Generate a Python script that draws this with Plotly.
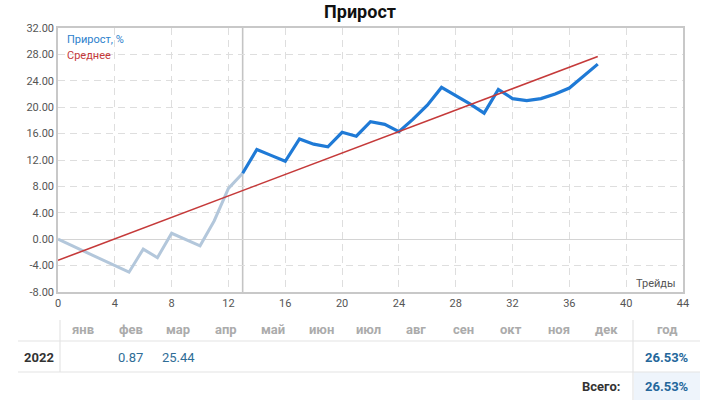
import plotly.graph_objects as go

# ---------------- data ----------------
title_text = "Прирост"
trades_early = list(range(0, 14))
growth_early = [0.0, -1.0, -2.0, -3.0, -4.0, -5.0, -1.5, -2.8, 0.9, 0.0, -1.0, 2.8, 7.7, 10.0]
trades_late = list(range(13, 39))
growth_late = [10.0, 13.6, 12.7, 11.8, 15.2, 14.4, 14.0, 16.2, 15.6, 17.8, 17.4, 16.3, 18.2,
               20.3, 23.0, 21.8, 20.5, 19.1, 22.7, 21.3, 21.0, 21.3, 22.0, 22.9, 24.7, 26.53]
avg_trades = [0, 38]
avg_growth = [-3.2, 27.7]
split_trade = 13
series_names = ["Прирост, %", "Среднее"]
x_axis_label = "Трейды"
x_ticks = list(range(0, 45, 4))
y_ticks = [-8, -4, 0, 4, 8, 12, 16, 20, 24, 28, 32]
y_tick_labels = ["-8.00", "-4.00", "0.00", "4.00", "8.00", "12.00", "16.00",
                 "20.00", "24.00", "28.00", "32.00"]
months = ["янв", "фев", "мар", "апр", "май", "июн", "июл", "авг", "сен", "окт", "ноя", "дек"]
year_header = "год"
year_label = "2022"
month_values = ["", "0.87", "25.44", "", "", "", "", "", "", "", "", ""]
year_total = "26.53%"
grand_total_label = "Всего:"
grand_total = "26.53%"

# ---------------- geometry ----------------
W, H = 720, 400
L, R, T, B = 58, 37, 28, 108
PW, PH = W - L - R, H - T - B
FONT = "Roboto"


def px(x):
    return (x - L) / PW


def py(y):
    return (H - B - y) / PH


C_LIGHT = "#b3c7db"
C_BLUE = "#1f7ad6"
C_RED = "#c53a3a"

fig = go.Figure()
fig.add_trace(go.Scatter(x=trades_early, y=growth_early, mode="lines",
                         line=dict(color=C_LIGHT, width=3), hoverinfo="skip"))
fig.add_trace(go.Scatter(x=trades_late, y=growth_late, mode="lines",
                         line=dict(color=C_BLUE, width=3.2), name=series_names[0]))
fig.add_trace(go.Scatter(x=avg_trades, y=avg_growth, mode="lines",
                         line=dict(color=C_RED, width=1.6), name=series_names[1]))

fig.add_shape(type="line", xref="x", yref="paper", x0=split_trade, x1=split_trade,
              y0=0, y1=1, line=dict(color="#c4c4c4", width=1.6), layer="below")

annotations = []
# legend texts
annotations.append(dict(text=series_names[0], x=px(65), y=py(40), xref="paper", yref="paper",
                        xanchor="left", yanchor="middle", showarrow=False,
                        font=dict(family=FONT, size=11, color="#2b80cc")))
annotations.append(dict(text=series_names[1], x=px(65), y=py(55), xref="paper", yref="paper",
                        xanchor="left", yanchor="middle", showarrow=False,
                        font=dict(family=FONT, size=11, color=C_RED)))
annotations.append(dict(text=x_axis_label, x=px(678), y=py(283), xref="paper", yref="paper",
                        xanchor="right", yanchor="middle", showarrow=False,
                        font=dict(family=FONT, size=11, color="#555")))

# table
col0, step = 83, 47.6
hdr_y, row_y, tot_y = 329, 357, 386
for i, m in enumerate(months):
    annotations.append(dict(text="<b>" + m + "</b>", x=px(col0 + i * step), y=py(hdr_y),
                            xref="paper", yref="paper", xanchor="center", yanchor="middle",
                            showarrow=False, font=dict(family=FONT, size=13, color="#ababab")))
    if month_values[i]:
        annotations.append(dict(text=month_values[i], x=px(col0 + i * step), y=py(row_y),
                                xref="paper", yref="paper", xanchor="center", yanchor="middle",
                                showarrow=False, font=dict(family=FONT, size=13, color="#2f6d96")))
annotations.append(dict(text="<b>" + year_header + "</b>", x=px(667), y=py(hdr_y),
                        xref="paper", yref="paper", xanchor="center", yanchor="middle",
                        showarrow=False, font=dict(family=FONT, size=13, color="#ababab")))
annotations.append(dict(text="<b>" + year_label + "</b>", x=px(39), y=py(row_y),
                        xref="paper", yref="paper", xanchor="center", yanchor="middle",
                        showarrow=False, font=dict(family=FONT, size=13, color="#333")))
annotations.append(dict(text="<b>" + year_total + "</b>", x=px(667), y=py(row_y),
                        xref="paper", yref="paper", xanchor="center", yanchor="middle",
                        showarrow=False, font=dict(family=FONT, size=13, color="#25679b")))
annotations.append(dict(text="<b>" + grand_total_label + "</b>", x=px(622), y=py(tot_y),
                        xref="paper", yref="paper", xanchor="right", yanchor="middle",
                        showarrow=False, font=dict(family=FONT, size=13, color="#333")))
annotations.append(dict(text="<b>" + grand_total + "</b>", x=px(667), y=py(tot_y),
                        xref="paper", yref="paper", xanchor="center", yanchor="middle",
                        showarrow=False, font=dict(family=FONT, size=13, color="#25679b")))

shapes_tbl = [
    dict(type="rect", x0=px(634), x1=px(700), y0=py(372), y1=py(400),
         fillcolor="#eef4fb", line=dict(width=0)),
    dict(type="line", x0=px(18), x1=px(700), y0=py(341), y1=py(341),
         line=dict(color="#e4e4e4", width=1.2)),
    dict(type="line", x0=px(18), x1=px(700), y0=py(372), y1=py(372),
         line=dict(color="#e4e4e4", width=1.2)),
    dict(type="line", x0=px(60), x1=px(60), y0=py(320), y1=py(372),
         line=dict(color="#e4e4e4", width=1.2)),
    dict(type="line", x0=px(633), x1=px(633), y0=py(320), y1=py(400),
         line=dict(color="#e4e4e4", width=1.2)),
]
for s in shapes_tbl:
    s.update(xref="paper", yref="paper")
    fig.add_shape(**s)

fig.update_layout(
    width=W, height=H,
    margin=dict(l=L, r=R, t=T, b=B, pad=0),
    paper_bgcolor="white", plot_bgcolor="white",
    showlegend=False,
    font=dict(family=FONT, color="#555"),
    title=dict(text="<b>" + title_text + "</b>", x=0.5, xanchor="center",
               y=1 - 12 / H, yanchor="middle", yref="container",
               font=dict(family=FONT, size=18, color="#111")),
    annotations=annotations,
    xaxis=dict(range=[0, 44], tickvals=x_ticks, showgrid=True, gridcolor="#dedede",
               griddash="7px,5px", gridwidth=1, zeroline=False, showline=True,
               linecolor="#c8c8c8", linewidth=1.5, mirror=True, ticks="",
               tickfont=dict(family=FONT, size=11, color="#555")),
    yaxis=dict(range=[-8, 32], tickvals=y_ticks, ticktext=y_tick_labels, showgrid=True,
               gridcolor="#dedede", griddash="7px,5px", gridwidth=1, zeroline=True,
               zerolinecolor="#d4d4d4", zerolinewidth=1.2, showline=True,
               linecolor="#c8c8c8", linewidth=1.5, mirror=True, ticks="",
               tickfont=dict(family=FONT, size=11, color="#555")),
)

fig.write_html("out.html")
